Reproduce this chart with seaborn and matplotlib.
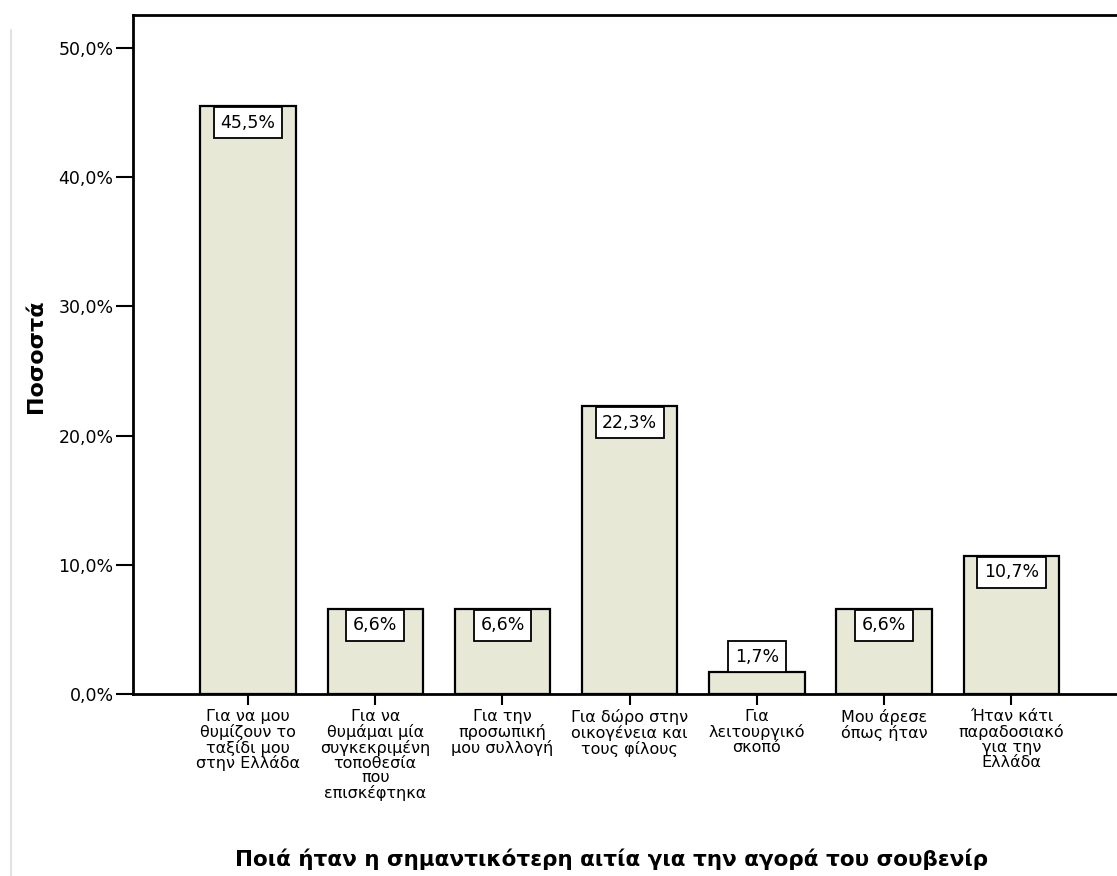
import matplotlib
matplotlib.use("Agg")
import matplotlib.pyplot as plt
from matplotlib.lines import Line2D
import seaborn as sns
import pandas as pd

# Reasons for buying the souvenir and the share of respondents (%)
categories = [
    "Για να μου\nθυμίζουν το\nταξίδι μου\nστην Ελλάδα",
    "Για να\nθυμάμαι μία\nσυγκεκριμένη\nτοποθεσία\nπου\nεπισκέφτηκα",
    "Για την\nπροσωπική\nμου συλλογή",
    "Για δώρο στην\nοικογένεια και\nτους φίλους",
    "Για\nλειτουργικό\nσκοπό",
    "Μου άρεσε\nόπως ήταν",
    "Ήταν κάτι\nπαραδοσιακό\nγια την\nΕλλάδα",
]
percentages = [45.5, 6.6, 6.6, 22.3, 1.7, 6.6, 10.7]
y_ticks = [0, 10, 20, 30, 40, 50]
y_tick_labels = ["0,0%", "10,0%", "20,0%", "30,0%", "40,0%", "50,0%"]
x_title = "Ποιά ήταν η σημαντικότερη αιτία για την αγορά του σουβενίρ"
y_title = "Ποσοστά"

sns.set_style("white")
plt.rcParams["font.family"] = ["DejaVu Sans"]
for key in ["text.color", "axes.labelcolor", "xtick.color", "ytick.color"]:
    plt.rcParams[key] = "black"

df = pd.DataFrame({"reason": categories, "pct": percentages})

W, H = 1117, 876
fig = plt.figure(figsize=(W / 100, H / 100), dpi=100)
left_px, right_px, top_px, bottom_px = 133, 1117, 15, 694
ax = fig.add_axes([left_px / W, 1 - bottom_px / H,
                   (right_px - left_px) / W, (bottom_px - top_px) / H])

sns.barplot(data=df, x="reason", y="pct", color="#E8E8D6", saturation=1,
            edgecolor="black", linewidth=1.6, width=0.75, ax=ax)

ax.set_xlim(-0.904, 6.83)
ax.set_ylim(0, 52.55)
ax.set_yticks(y_ticks)
ax.set_yticklabels(y_tick_labels, fontsize=12.5)
ax.set_xticks(range(len(categories)))
ax.set_xticklabels(categories, fontsize=11.5, linespacing=0.98, va="top")
ax.tick_params(axis="y", direction="out", length=12, width=1.5, pad=2, left=True)
ax.tick_params(axis="x", direction="out", length=8, width=1.5, pad=3, bottom=True)

for side in ["left", "bottom", "top"]:
    ax.spines[side].set_visible(True)
    ax.spines[side].set_linewidth(2)
    ax.spines[side].set_color("black")
ax.spines["right"].set_visible(False)

ax.set_xlabel(x_title, fontsize=15.5, fontweight="bold")
ax.xaxis.set_label_coords(0.486, -0.227)
ax.set_ylabel(y_title, fontsize=16, fontweight="bold")
ax.yaxis.set_label_coords(-0.088, 0.498)

# value boxes: inside the top of the bar, or above it when the bar is too short
for i, v in enumerate(percentages):
    label = f"{v:.1f}%".replace(".", ",")
    offset = -12 if v > 4 else 11
    ax.annotate(label, xy=(i, v), xytext=(0, offset), textcoords="offset points",
                ha="center", va="center", fontsize=12.5,
                bbox=dict(boxstyle="square,pad=0.38", fc="white", ec="black", lw=1.3))

# faint scan margin line at the left edge
fig.add_artist(Line2D([11 / W, 11 / W], [0, 1 - 30 / H], color="#e2e2e2", lw=1.5))

fig.savefig("out.png", dpi=100)
